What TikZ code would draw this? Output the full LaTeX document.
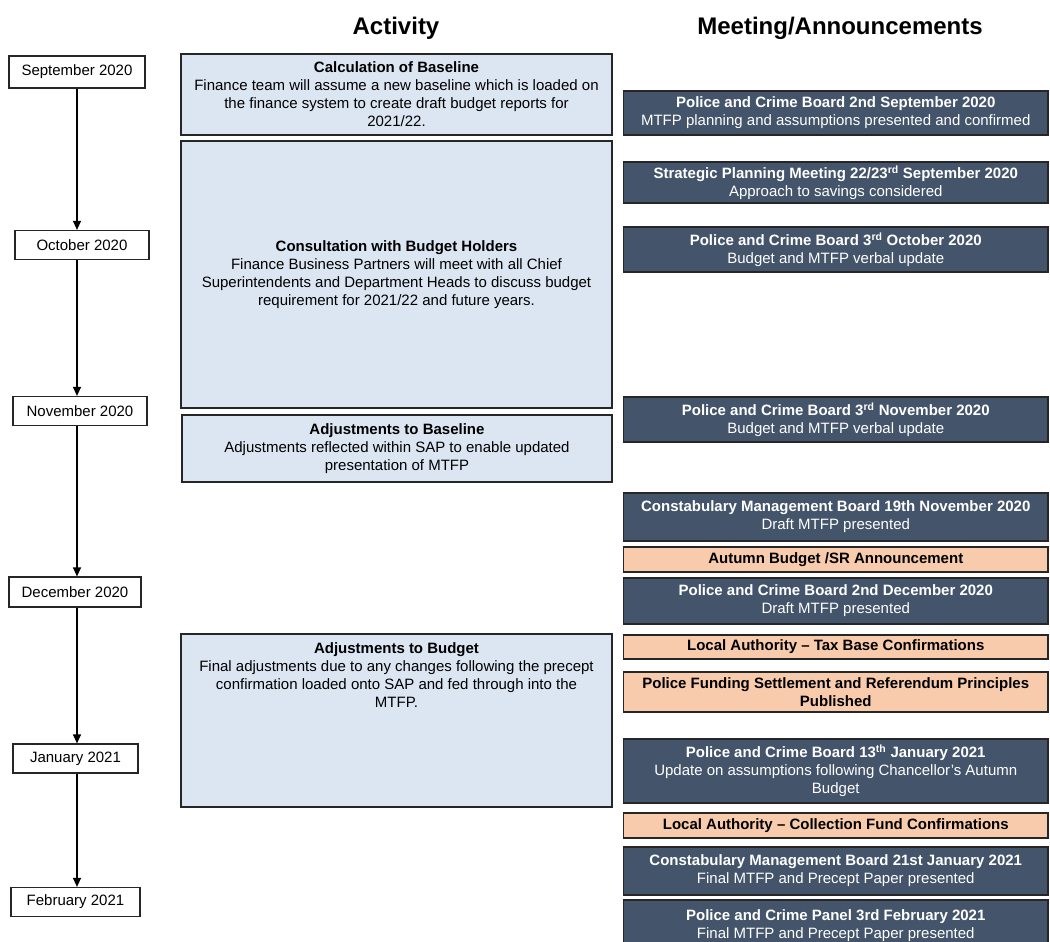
\documentclass[tikz,border=0pt]{standalone}
\usepackage{fontspec}
\setmainfont{Liberation Sans}
\usetikzlibrary{arrows.meta}
\definecolor{slate}{RGB}{68,84,106}
\definecolor{paleblue}{RGB}{220,230,242}
\definecolor{peach}{RGB}{248,203,173}

\begin{document}
\begin{tikzpicture}
    [x=1pt,y=-1pt,
     every node/.style={font=\fontsize{15}{18}\selectfont,inner sep=0pt},
     month/.style={rectangle,draw=black!85,line width=1.2pt,fill=white,minimum height=29pt},
     act/.style={rectangle,draw=black!85,line width=1.2pt,fill=paleblue,align=center,minimum width=431pt},
     meet/.style={rectangle,draw=black!85,line width=1.2pt,fill=slate,text=white,align=center,minimum width=424.5pt},
     notice/.style={rectangle,draw=black!85,line width=1.2pt,fill=peach,align=center,minimum width=424.5pt,
                    font=\fontsize{15}{18}\selectfont\bfseries},
     head/.style={font=\fontsize{24}{28}\selectfont\bfseries}]
    \useasboundingbox (0,0) rectangle (1050,942);
    \clip (0,0) rectangle (1050,942);

    \node[head] (acthead) at (396,28) {Activity};
    \node[head] (meethead) at (840,28) {Meeting/Announcements};

    % months
    \node[month,minimum width=136pt,minimum height=32pt] (sep) at (77,72) {September 2020};
    \node[month,minimum width=134pt] (oct) at (82,245) {October 2020};
    \node[month,minimum width=134pt] (nov) at (80,411) {November 2020};
    \node[month,minimum width=132pt,minimum height=30pt] (dec) at (75,592) {December 2020};
    \node[month,minimum width=125pt] (jan) at (75.5,758.5) {January 2021};
    \node[month,minimum width=129pt] (feb) at (75.5,902) {February 2021};
    \coordinate (spine) at (77,0);
    \foreach \a/\b in {sep/oct,oct/nov,nov/dec,dec/jan,jan/feb}
        \draw[-{Triangle[length=9pt,width=8pt]},line width=1.2pt] (\a.south -| spine) -- (\b.north -| spine);

    % activity
    \node[act,minimum height=81pt] (calc) at (396.5,94.5)
        {\textbf{Calculation of Baseline}\\Finance team will assume a new baseline which is loaded on\\
         the finance system to create draft budget reports for\\2021/22.};
    \node[act,minimum height=267pt] (consult) at (396.5,274.5)
        {\textbf{Consultation with Budget Holders}\\Finance Business Partners will meet with all Chief\\
         Superintendents and Department Heads to discuss budget\\requirement for 2021/22 and future years.};
    \node[act,minimum height=67pt,minimum width=430pt] (adjbase) at (397,448.5)
        {\textbf{Adjustments to Baseline}\\Adjustments reflected within SAP to enable updated\\presentation of MTFP};
    \node[act,minimum height=173pt] (adjbudget) at (396.5,720.5) {};
    \node[anchor=north,align=center] (adjtext) at ([yshift=-9pt]adjbudget.north)
        {\textbf{Adjustments to Budget}\\Final adjustments due to any changes following the precept\\
         confirmation loaded onto SAP and fed through into the\\MTFP.};

    % meetings and announcements
    \node[meet,minimum height=44pt] (pcbsep) at (835.75,113)
        {\textbf{Police and Crime Board 2nd September 2020}\\MTFP planning and assumptions presented and confirmed};
    \node[meet,minimum height=41pt] (spm) at (835.75,182.5)
        {\textbf{Strategic Planning Meeting 22/23\textsuperscript{rd} September 2020}\\Approach to savings considered};
    \node[meet,minimum height=45pt] (pcboct) at (835.75,249.5)
        {\textbf{Police and Crime Board 3\textsuperscript{rd} October 2020}\\Budget and MTFP verbal update};
    \node[meet,minimum height=45pt] (pcbnov) at (835.75,419.5)
        {\textbf{Police and Crime Board 3\textsuperscript{rd} November 2020}\\Budget and MTFP verbal update};
    \node[meet,minimum height=48pt] (cmbnov) at (835.75,517)
        {\textbf{Constabulary Management Board 19th November 2020}\\Draft MTFP presented};
    \node[notice,minimum height=25pt] (autumn) at (835.75,559.5) {Autumn Budget /SR Announcement};
    \node[meet,minimum height=46pt] (pcbdec) at (835.75,601)
        {\textbf{Police and Crime Board 2nd December 2020}\\Draft MTFP presented};
    \node[notice,minimum height=24pt] (taxbase) at (835.75,647)
        {Local Authority \textendash\ Tax Base Confirmations};
    \node[notice,minimum height=40pt] (funding) at (835.75,692)
        {Police Funding Settlement and Referendum Principles\\Published};
    \node[meet,minimum height=64pt] (pcbjan) at (835.75,771)
        {\textbf{Police and Crime Board 13\textsuperscript{th} January 2021}\\Update on assumptions following Chancellor's Autumn\\Budget};
    \node[notice,minimum height=25pt] (collect) at (835.75,825.5)
        {Local Authority \textendash\ Collection Fund Confirmations};
    \node[meet,minimum height=48pt] (cmbjan) at (835.75,871)
        {\textbf{Constabulary Management Board 21st January 2021}\\Final MTFP and Precept Paper presented};
    \node[meet,minimum height=52pt] (pcpfeb) at (835.75,926)
        {\textbf{Police and Crime Panel 3rd February 2021}\\Final MTFP and Precept Paper presented};
\end{tikzpicture}
\end{document}
